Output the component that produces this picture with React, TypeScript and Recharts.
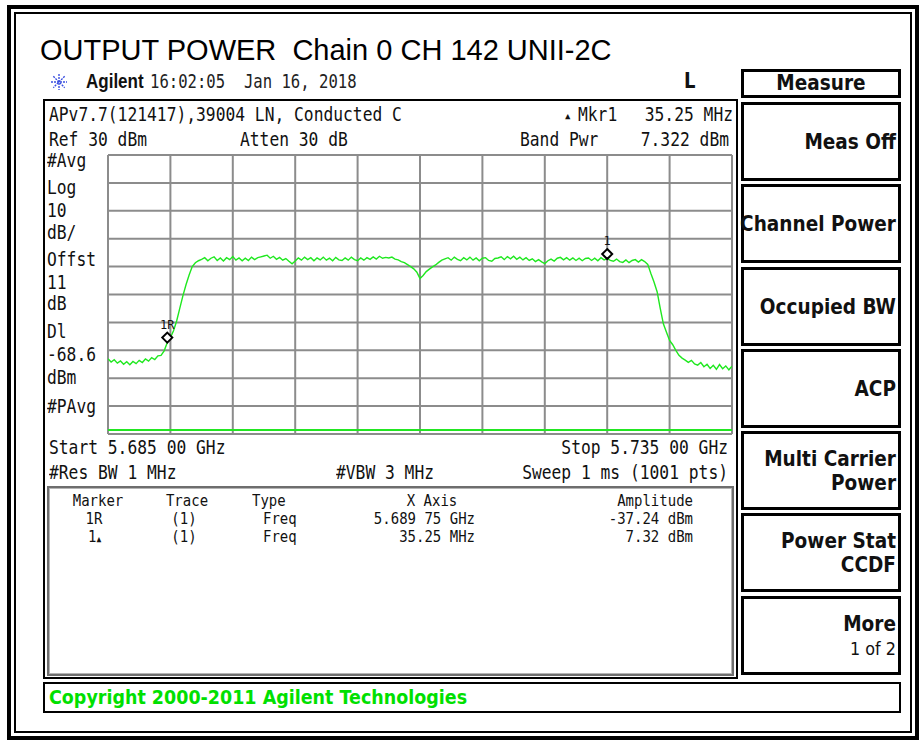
import React from 'react'
import { ComposedChart, Line, Scatter, XAxis, YAxis, ReferenceLine } from 'recharts'

const W = 923
const START_GHZ = 5.685
const STOP_GHZ = 5.735
const STEP_GHZ = 0.00025

// trace 1 (dBm), one reading every 0.25 MHz from start to stop
const traceDbm = [
  -43.0, -44.2, -43.4, -44.6, -43.8, -45.0, -44.1, -45.2, -44.0, -44.8, -43.6, -44.4, -43.1, -43.9, -42.6, -43.3,
  -42.0, -41.8, -40.2, -37.2, -35.5, -33.0, -29.5, -25.0, -20.5, -16.5, -13.0, -10.0, -8.6, -7.9, -7.4,
  -6.8, -7.9, -7.0, -6.5, -7.8, -6.9, -8.0, -6.8, -7.5, -6.4,
  -7.7, -6.9, -7.9, -7.0, -7.8, -6.6, -7.5, -6.8, -6.5, -6.2,
  -5.9, -7.0, -6.3, -7.4, -6.7, -7.7, -7.1, -8.1, -9.0, -8.0,
  -6.9, -7.7, -6.6, -7.5, -6.8, -7.9, -6.9, -7.6, -6.6, -7.7,
  -7.0, -7.9, -6.7, -7.6, -7.8, -6.9, -7.7, -6.6, -7.5, -7.9,
  -6.9, -7.7, -6.8, -7.4, -6.5, -7.3, -6.3,
  -7.0, -6.7, -6.9, -6.6, -7.3, -7.6, -8.2, -8.6, -9.3, -10.0, -10.8, -12.0, -14.3, -13.2, -11.8, -10.9, -10.1, -9.4, -8.5, -7.7, -7.2,
  -6.8, -7.7, -6.6, -7.4, -7.9, -6.8, -7.6, -6.6, -7.7, -6.9,
  -7.9, -7.0, -6.8, -7.8, -8.1, -7.1, -6.9, -6.5, -7.5, -6.4,
  -7.2, -6.3, -7.4, -6.6, -7.6, -6.8, -7.8, -7.2, -8.2, -7.5,
  -8.3, -8.9, -7.9, -7.3, -8.0, -7.0, -6.7, -7.6, -6.8, -7.7,
  -6.9, -7.8, -7.0, -7.9, -7.1, -6.9, -7.8, -7.0, -7.9, -6.8,
  -7.6, -7.1, -7.8, -8.1, -7.3, -8.2, -8.5, -7.6, -8.6, -7.8,
  -7.5, -8.4, -7.5,
  -8.2, -9.2, -12.5, -15.5, -19.0, -25.0, -30.5, -33.5, -36.5, -38.0,
  -40.0, -41.8, -42.8, -43.5, -44.3, -43.6, -44.9, -45.3, -44.4, -45.9,
  -45.0, -46.5, -45.4, -46.8, -45.1, -46.6, -45.6, -47.0, -45.7,
]

const freqTicks = [5.685, 5.69, 5.695, 5.7, 5.705, 5.71, 5.715, 5.72, 5.725, 5.73, 5.735]
const levelTicks = [30, 20, 10, 0, -10, -20, -30, -40, -50, -60, -70]
const displayLineDbm = -68.6

const markerLabels = ['1R', '1']
const markerFreqs = [5.68975, 5.725]
const markerLevels = [-37.24, -7.3]

const leftLabels = ['#Avg', 'Log', '10', 'dB/', 'Offst', '11', 'dB', 'Dl', '-68.6', 'dBm', '#PAvg']
const leftLabelY = [161, 188, 211, 233, 260, 283, 304, 332, 355, 378, 407]

const softkeys = [
  ['Meas Off'],
  ['Channel Power'],
  ['Occupied BW'],
  ['ACP'],
  ['Multi Carrier', 'Power'],
  ['Power Stat', 'CCDF'],
  ['More', '1 of 2'],
]
const softkeyTops = [102, 184, 267, 349, 431, 513, 596]

const traceData = traceDbm.map((amp, i) => ({ f: +(START_GHZ + i * STEP_GHZ).toFixed(5), amp }))
const markerData = markerFreqs.map((f, i) => ({ f, amp: markerLevels[i], label: markerLabels[i] }))

const mono = '"DejaVu Sans Mono", monospace'
const sans = '"DejaVu Sans", sans-serif'
const gridColor = '#8c8c8c'

function Txt({ x, y, align = 'left', size = 16.3, font = mono, bold = false, color = '#111', sy = 1.2, children }: any) {
  const style: React.CSSProperties = {
    position: 'absolute',
    top: y - 12,
    height: 24,
    lineHeight: '24px',
    whiteSpace: 'pre',
    fontFamily: font,
    fontSize: size,
    fontWeight: bold ? 700 : 400,
    color,
    transform: `scaleY(${sy})`,
  }
  if (align === 'right') {
    style.right = W - x
    style.textAlign = 'right'
  } else if (align === 'center') {
    style.left = x - 150
    style.width = 300
    style.textAlign = 'center'
  } else {
    style.left = x
  }
  return <div style={style}>{children}</div>
}

function Box({ x, y, w, h, border = '2px solid #000', extra = {} }: any) {
  return (
    <div
      style={{
        position: 'absolute',
        left: x,
        top: y,
        width: w,
        height: h,
        boxSizing: 'border-box',
        border,
        ...extra,
      }}
    />
  )
}

function MarkerShape(props: any) {
  const { cx, cy, payload } = props
  if (cx == null || cy == null) return null
  return (
    <g>
      <path
        d={`M${cx} ${cy - 10} L${cx + 5} ${cy - 5} L${cx} ${cy} L${cx - 5} ${cy - 5} Z`}
        fill="#fff"
        stroke="#000"
        strokeWidth={2}
      />
      <text x={cx} y={cy - 14} textAnchor="middle" fontSize={12} fontFamily={mono} fill="#111">
        {payload.label}
      </text>
    </g>
  )
}

function AgilentStar() {
  const spokes = [0, 45, 90, 135]
  return (
    <svg width={20} height={20} style={{ position: 'absolute', left: 49, top: 72 }}>
      {spokes.map((a) => (
        <line
          key={a}
          x1={10 - 8 * Math.cos((a * Math.PI) / 180)}
          y1={10 - 8 * Math.sin((a * Math.PI) / 180)}
          x2={10 + 8 * Math.cos((a * Math.PI) / 180)}
          y2={10 + 8 * Math.sin((a * Math.PI) / 180)}
          stroke="#3a4fe0"
          strokeWidth={1.4}
          strokeDasharray="2 1"
        />
      ))}
    </svg>
  )
}

export default function App() {
  const keyFont = 18.5
  return (
    <div style={{ position: 'fixed', left: 0, top: 0, width: W, height: 740, background: '#fff', overflow: 'hidden' }}>
      {/* document frame */}
      <Box x={7} y={5} w={912} h={735} border="4px solid #000" />
      <Box x={14} y={12} w={898} h={721} border="2px solid #000" />

      <div
        style={{
          position: 'absolute',
          left: 40,
          top: 36,
          height: 28,
          lineHeight: '28px',
          whiteSpace: 'pre',
          fontFamily: '"Liberation Sans", Arial, sans-serif',
          fontSize: 29,
          color: '#000',
        }}
      >
        OUTPUT POWER  Chain 0 CH 142 UNII-2C
      </div>

      <AgilentStar />
      <Txt x={86} y={82} font='"Liberation Sans", Arial, sans-serif' size={17} bold>Agilent</Txt>
      <Txt x={150} y={82} size={15.6} color="#222">16:02:05  Jan 16, 2018</Txt>
      <Txt x={684} y={81} font={sans} size={18} bold>L</Txt>

      {/* analyzer screen */}
      <Box x={43} y={99} w={695} h={580} />
      <Txt x={49} y={115}>APv7.7(121417),39004 LN, Conducted C</Txt>
      <Txt x={565} y={116} size={9} sy={1}>▲</Txt>
      <Txt x={578} y={115}>Mkr1</Txt>
      <Txt x={733} y={115} align="right">35.25 MHz</Txt>
      <Txt x={49} y={140}>Ref 30 dBm</Txt>
      <Txt x={240} y={140}>Atten 30 dB</Txt>
      <Txt x={520} y={140}>Band Pwr</Txt>
      <Txt x={729} y={140} align="right">7.322 dBm</Txt>
      {leftLabels.map((t, i) => (
        <Txt key={t + i} x={47} y={leftLabelY[i]}>{t}</Txt>
      ))}

      <div style={{ position: 'absolute', left: 107, top: 154 }}>
        <ComposedChart width={626} height={281} data={traceData} margin={{ top: 1, right: 1, bottom: 1, left: 1 }}>
          <XAxis
            type="number"
            dataKey="f"
            domain={[START_GHZ, STOP_GHZ]}
            ticks={freqTicks}
            height={0}
            tick={false}
            tickLine={false}
            axisLine={false}
            allowDataOverflow
          />
          <YAxis
            type="number"
            domain={[-70, 30]}
            ticks={levelTicks}
            width={0}
            tick={false}
            tickLine={false}
            axisLine={false}
            allowDataOverflow
          />
          {levelTicks.map((v) => (
            <ReferenceLine key={'h' + v} y={v} stroke={gridColor} strokeWidth={2} />
          ))}
          {freqTicks.map((f) => (
            <ReferenceLine key={'v' + f} x={f} stroke={gridColor} strokeWidth={2} />
          ))}
          <ReferenceLine y={displayLineDbm} stroke="#22e622" strokeWidth={2} />
          <Line
            type="linear"
            dataKey="amp"
            stroke="#1fe81f"
            strokeWidth={1.4}
            dot={false}
            isAnimationActive={false}
          />
          <Scatter data={markerData} dataKey="amp" shape={MarkerShape} isAnimationActive={false} />
        </ComposedChart>
      </div>

      <Txt x={49} y={448}>Start 5.685 00 GHz</Txt>
      <Txt x={728} y={448} align="right">Stop 5.735 00 GHz</Txt>
      <Txt x={49} y={473}>#Res BW 1 MHz</Txt>
      <Txt x={336} y={473}>#VBW 3 MHz</Txt>
      <Txt x={728} y={473} align="right">Sweep 1 ms (1001 pts)</Txt>

      {/* marker table */}
      <Box x={47} y={486} w={687} h={190} border="2px solid #6e6e6e" extra={{ boxShadow: 'inset 0 0 0 1px #b4b4b4' }} />
      <Txt x={98} y={500} align="center" size={14} sy={1.15}>Marker</Txt>
      <Txt x={187} y={500} align="center" size={14} sy={1.15}>Trace</Txt>
      <Txt x={252} y={500} size={14} sy={1.15}>Type</Txt>
      <Txt x={432} y={500} align="center" size={14} sy={1.15}>X Axis</Txt>
      <Txt x={693} y={500} align="right" size={14} sy={1.15}>Amplitude</Txt>

      <Txt x={94} y={518} align="center" size={14} sy={1.15}>1R</Txt>
      <Txt x={184} y={518} align="center" size={14} sy={1.15}>(1)</Txt>
      <Txt x={263} y={518} size={14} sy={1.15}>Freq</Txt>
      <Txt x={475} y={518} align="right" size={14} sy={1.15}>5.689 75 GHz</Txt>
      <Txt x={693} y={518} align="right" size={14} sy={1.15}>-37.24 dBm</Txt>

      <Txt x={88} y={536} size={14} sy={1.15}>1<span style={{ fontSize: 8 }}>▲</span></Txt>
      <Txt x={184} y={536} align="center" size={14} sy={1.15}>(1)</Txt>
      <Txt x={263} y={536} size={14} sy={1.15}>Freq</Txt>
      <Txt x={475} y={536} align="right" size={14} sy={1.15}>35.25 MHz</Txt>
      <Txt x={693} y={536} align="right" size={14} sy={1.15}>7.32 dBm</Txt>

      {/* softkey column */}
      <Box x={741} y={69} w={160} h={29} border="3px solid #000" />
      <Txt x={821} y={83} align="center" font={sans} size={keyFont} sy={1.1} bold>Measure</Txt>
      {softkeys.map((lines, i) => {
        const top = softkeyTops[i]
        const mid = top + 39.5
        return (
          <React.Fragment key={lines[0]}>
            <Box x={741} y={top} w={160} h={79} border="3px solid #000" />
            {lines.length === 1 ? (
              <Txt x={896} y={mid} align="right" font={sans} size={keyFont} sy={1.1} bold>{lines[0]}</Txt>
            ) : (
              <>
                <Txt x={896} y={mid - 12} align="right" font={sans} size={keyFont} sy={1.1} bold>{lines[0]}</Txt>
                {lines[1] === '1 of 2' ? (
                  <Txt x={896} y={mid + 13} align="right" font={sans} size={16} sy={1.15}>{lines[1]}</Txt>
                ) : (
                  <Txt x={896} y={mid + 12} align="right" font={sans} size={keyFont} sy={1.1} bold>{lines[1]}</Txt>
                )}
              </>
            )}
          </React.Fragment>
        )
      })}

      {/* status line */}
      <Box x={43} y={682} w={858} h={31} />
      <Txt x={49} y={697} font={sans} size={17.5} bold color="#00e000" sy={1.1}>Copyright 2000-2011 Agilent Technologies</Txt>
    </div>
  )
}
